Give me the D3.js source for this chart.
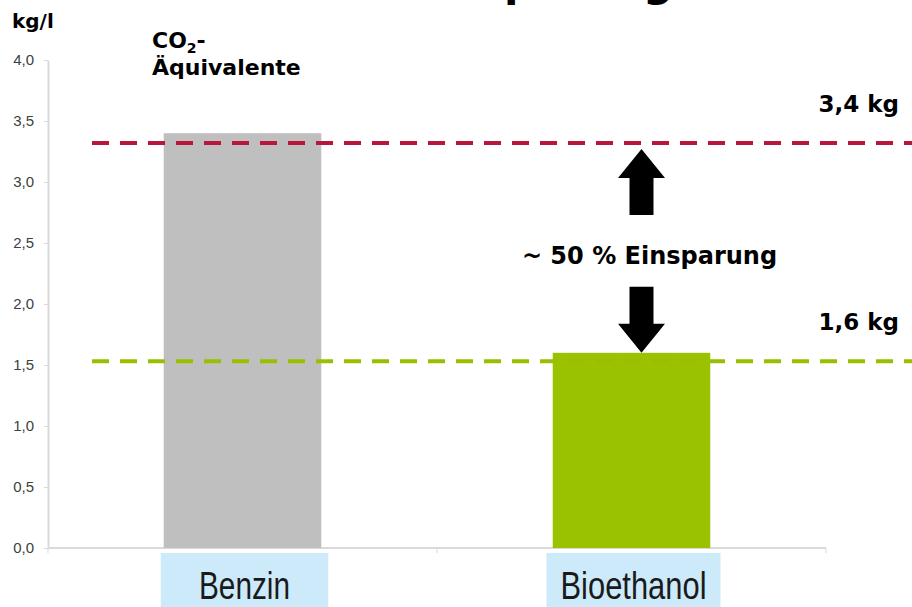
<!DOCTYPE html>
<html>
<head>
<meta charset="utf-8">
<script src="https://cdn.jsdelivr.net/npm/d3@7"></script>
<style>
  body { margin: 0; background: #fff; }
  svg { display: block; }
</style>
</head>
<body>
<svg id="chart"></svg>
<script>
// values
const categories = ["Benzin", "Bioethanol"];
const values = [3.4, 1.6];
const barColors = ["#bfbfbf", "#9bc200"];
const refLines = [3.32, 1.53];          // the dashed lines sit a bit below the bar tops
const refColors = ["#b8173b", "#99c000"];
const yTicks = [0, 0.5, 1, 1.5, 2, 2.5, 3, 3.5, 4];
const savingText = "~ 50 % Einsparung";
const titleText = "CO2-Einsparung";

const width = 912;
const height = 607;
const plotLeft = 48, plotRight = 826, plotTop = 60, plotBottom = 548;

const svg = d3.select("#chart")
    .attr("width", width)
    .attr("height", height);

const de = d3.formatLocale({decimal: ",", thousands: ".", grouping: [3], currency: ["", " €"]});
const fmt1 = de.format(".1f");

const x = d3.scaleBand()
    .domain(categories)
    .range([plotLeft, plotRight])
    .paddingInner(0.595)
    .paddingOuter(0.2975);

const y = d3.scaleLinear()
    .domain([0, 4])
    .range([plotBottom, plotTop]);

// title, mostly cut off at the top edge (as in the source slide)
svg.append("text")
    .attr("x", 673)
    .attr("y", -4)
    .attr("text-anchor", "end")
    .attr("font-family", "DejaVu Sans")
    .attr("font-weight", "bold")
    .attr("font-size", 42)
    .text(titleText);

// y axis
const yAxis = svg.append("g")
    .attr("transform", `translate(${plotLeft},0)`)
    .call(d3.axisLeft(y)
        .tickValues(yTicks)
        .tickFormat(fmt1)
        .tickSize(4)
        .tickSizeOuter(0)
        .tickPadding(10));
yAxis.select(".domain").attr("stroke", "#d9d9d9").attr("stroke-width", 2);
yAxis.selectAll(".tick line").attr("stroke", "#d9d9d9");
yAxis.selectAll(".tick text")
    .attr("fill", "#404040")
    .attr("font-family", "Liberation Sans Narrow, Liberation Sans, sans-serif")
    .attr("font-size", 15);

// x baseline with ticks at band edges
const xAxis = svg.append("g");
xAxis.append("line")
    .attr("x1", plotLeft).attr("x2", plotRight)
    .attr("y1", y(0)).attr("y2", y(0))
    .attr("stroke", "#d9d9d9")
    .attr("stroke-width", 2);
xAxis.selectAll("line.edge")
    .data([plotLeft, (x(categories[0]) + x(categories[1]) + x.bandwidth()) / 2, plotRight])
    .join("line")
    .attr("class", "edge")
    .attr("x1", d => d).attr("x2", d => d)
    .attr("y1", y(0)).attr("y2", y(0) + 5)
    .attr("stroke", "#d9d9d9");

// bars
svg.append("g")
    .selectAll("rect")
    .data(categories)
    .join("rect")
    .attr("x", d => x(d))
    .attr("y", (d, i) => y(values[i]))
    .attr("width", x.bandwidth())
    .attr("height", (d, i) => y(0) - y(values[i]))
    .attr("fill", (d, i) => barColors[i]);

// dashed reference lines
svg.append("g")
    .selectAll("line")
    .data(refLines)
    .join("line")
    .attr("x1", plotLeft + 44)
    .attr("x2", width)
    .attr("y1", d => y(d))
    .attr("y2", d => y(d))
    .attr("stroke", (d, i) => refColors[i])
    .attr("stroke-width", 4)
    .attr("stroke-dasharray", "17,11");

// value labels on the right
const boldFont = "DejaVu Sans";
svg.append("g")
    .selectAll("text")
    .data(values)
    .join("text")
    .attr("x", 899)
    .attr("y", (d, i) => y(refLines[i]) - 31)
    .attr("text-anchor", "end")
    .attr("font-family", boldFont)
    .attr("font-weight", "bold")
    .attr("font-size", 23)
    .text(d => fmt1(d) + " kg");

// arrows
const ax = x(categories[1]) + x.bandwidth() / 2 + 10;
const headH = 29, headW = 23.5, shaftW = 12, shaftH = 37;
const upTip = y(refLines[0]) + 6;
const downTip = y(values[1]);
const arrow = (tip, dir) => {
    const b = tip + dir * headH;
    const e = b + dir * shaftH;
    return [[ax, tip], [ax + headW, b], [ax + shaftW, b], [ax + shaftW, e],
            [ax - shaftW, e], [ax - shaftW, b], [ax - headW, b]];
};
svg.append("g")
    .selectAll("polygon")
    .data([arrow(upTip, 1), arrow(downTip, -1)])
    .join("polygon")
    .attr("points", d => d.map(p => p.join(",")).join(" "))
    .attr("fill", "#000");

svg.append("text")
    .attr("x", ax + 8)
    .attr("y", (upTip + headH + shaftH + downTip - headH - shaftH) / 2 + 13)
    .attr("text-anchor", "middle")
    .attr("font-family", boldFont)
    .attr("font-weight", "bold")
    .attr("font-size", 24)
    .text(savingText);

// unit labels
svg.append("text")
    .attr("x", 12).attr("y", 28)
    .attr("font-family", boldFont)
    .attr("font-weight", "bold")
    .attr("font-size", 20)
    .text("kg/l");

const co = svg.append("text")
    .attr("x", 152).attr("y", 48)
    .attr("font-family", boldFont)
    .attr("font-weight", "bold")
    .attr("font-size", 22);
co.append("tspan").text("CO");
co.append("tspan").attr("font-size", 14).attr("dy", 5).text("2");
co.append("tspan").attr("dy", -5).text("-");
svg.append("text")
    .attr("x", 152).attr("y", 75)
    .attr("font-family", boldFont)
    .attr("font-weight", "bold")
    .attr("font-size", 22)
    .text("Äquivalente");

// category label boxes
const labelTextWidth = {Benzin: 91, Bioethanol: 146};
const cats = svg.append("g")
    .selectAll("g")
    .data(categories)
    .join("g")
    .attr("transform", d => `translate(${x(d) + x.bandwidth() / 2 + 2},0)`);
cats.append("rect")
    .attr("x", d => -Math.max(x.bandwidth() + 10, labelTextWidth[d] + 28) / 2)
    .attr("y", 553)
    .attr("width", d => Math.max(x.bandwidth() + 10, labelTextWidth[d] + 28))
    .attr("height", 60)
    .attr("fill", "#cdeafb");
cats.append("text")
    .attr("x", 0)
    .attr("y", 599)
    .attr("text-anchor", "middle")
    .attr("font-family", "Liberation Sans Narrow, Liberation Sans, sans-serif")
    .attr("font-size", 38)
    .attr("fill", "#1a1a1a")
    .attr("textLength", d => labelTextWidth[d])
    .attr("lengthAdjust", "spacingAndGlyphs")
    .text(d => d);
</script>
</body>
</html>
